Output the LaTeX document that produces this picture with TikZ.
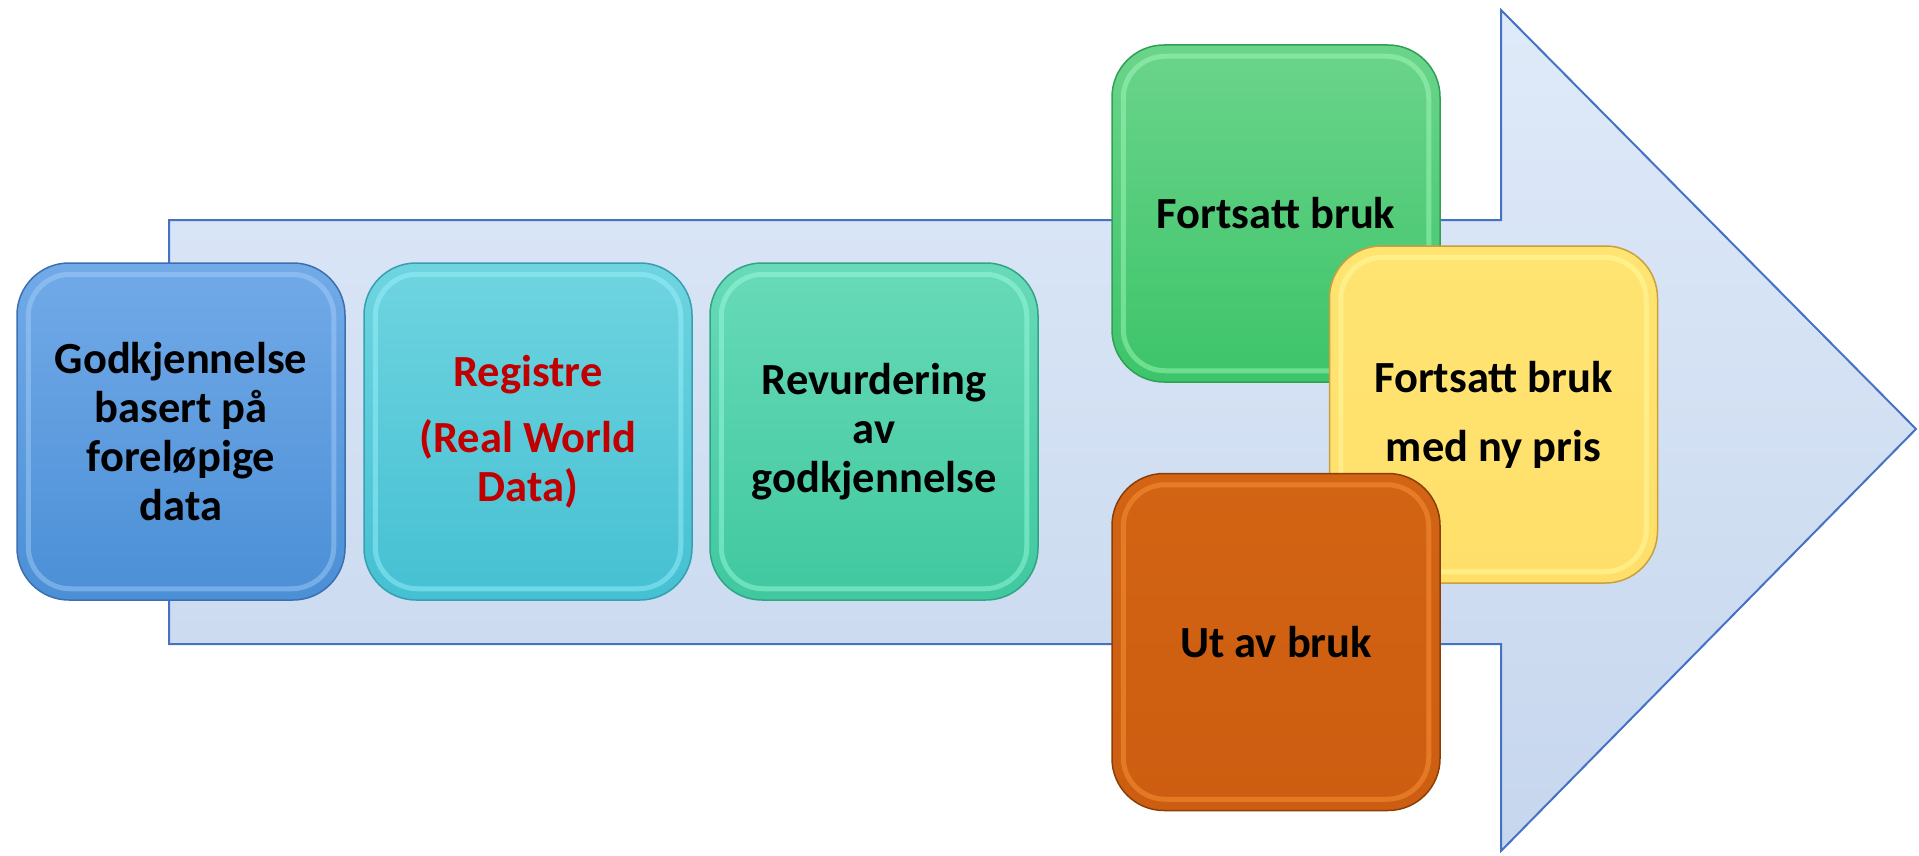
\documentclass[tikz,border=0pt]{standalone}
\usepackage{fontspec}
\setmainfont{Carlito}
\newfontfamily\tilefamily{Carlito}
\definecolor{arrTop}{HTML}{DFEAF9}
\definecolor{arrBot}{HTML}{C6D6ED}
\definecolor{arrEdge}{HTML}{4472C4}
\definecolor{bluT}{HTML}{72AAE8}\definecolor{bluB}{HTML}{4B8FD6}\definecolor{bluE}{HTML}{3C6FB0}\definecolor{bluH}{HTML}{A9D2FA}
\definecolor{cyaT}{HTML}{6FD4E0}\definecolor{cyaB}{HTML}{45C0D2}\definecolor{cyaE}{HTML}{35A0B0}\definecolor{cyaH}{HTML}{9FF5FF}
\definecolor{teaT}{HTML}{68DAB8}\definecolor{teaB}{HTML}{40C89F}\definecolor{teaE}{HTML}{30A585}\definecolor{teaH}{HTML}{A0FFE0}
\definecolor{greT}{HTML}{6BD48B}\definecolor{greB}{HTML}{3DC469}\definecolor{greE}{HTML}{2FA054}\definecolor{greH}{HTML}{A8FFC0}
\definecolor{yelT}{HTML}{FFE472}\definecolor{yelB}{HTML}{FFDF6A}\definecolor{yelE}{HTML}{C8A040}\definecolor{yelH}{HTML}{FFFFA8}
\definecolor{oraT}{HTML}{D26414}\definecolor{oraB}{HTML}{CD5D10}\definecolor{oraE}{HTML}{8A3E08}\definecolor{oraH}{HTML}{FF9A40}
\definecolor{regred}{HTML}{C00000}
\newcommand\tilebevel[2]{\draw[#2, rounded corners=42pt, line width=5pt, opacity=0.45] ([shift={(12pt,-12pt)}]#1.north west) rectangle ([shift={(-12pt,12pt)}]#1.south east);}
\tikzset{
  tile/.style={rectangle, rounded corners=52pt, minimum width=328pt, minimum height=337pt,
    line width=1.5pt, align=center, inner sep=0pt, text=black,
    font=\tilefamily\bfseries\fontsize{44.5}{49}\selectfont},
  bigarrow/.style={draw=arrEdge, line width=2pt, top color=arrTop, bottom color=arrBot, line join=miter}
}
\begin{document}
\begin{tikzpicture}[x=1pt,y=-1pt]
\useasboundingbox (0,0) rectangle (1919,856);
% big arrow
\draw[bigarrow] (169,220) -- (1501,220) -- (1501,10) -- (1916,429) -- (1501,851) -- (1501,644) -- (169,644) -- cycle;
% tiles
\node[tile, draw=bluE, top color=bluT, bottom color=bluB] (b1) at (181,431.5) {Godkjennelse\\basert på\\foreløpige\\data};
\tilebevel{b1}{bluH}
\node[tile, draw=cyaE, top color=cyaT, bottom color=cyaB, text=regred] (b2) at (528,431.5) {Registre\\[17pt](Real World\\Data)};
\tilebevel{b2}{cyaH}
\node[tile, draw=teaE, top color=teaT, bottom color=teaB] (b3) at (874,431.5) {Revurdering\\av\\godkjennelse};
\tilebevel{b3}{teaH}
\node[tile, draw=greE, top color=greT, bottom color=greB] (g) at (1276,213.5) {Fortsatt bruk};
\tilebevel{g}{greH}
\node[tile, draw=yelE, top color=yelT, bottom color=yelB] (y) at (1493.5,414.5) {Fortsatt bruk\\[20pt]med ny pris};
\tilebevel{y}{yelH}
\node[tile, draw=oraE, top color=oraT, bottom color=oraB] (o) at (1276,642) {Ut av bruk};
\tilebevel{o}{oraH}
\end{tikzpicture}
\end{document}
